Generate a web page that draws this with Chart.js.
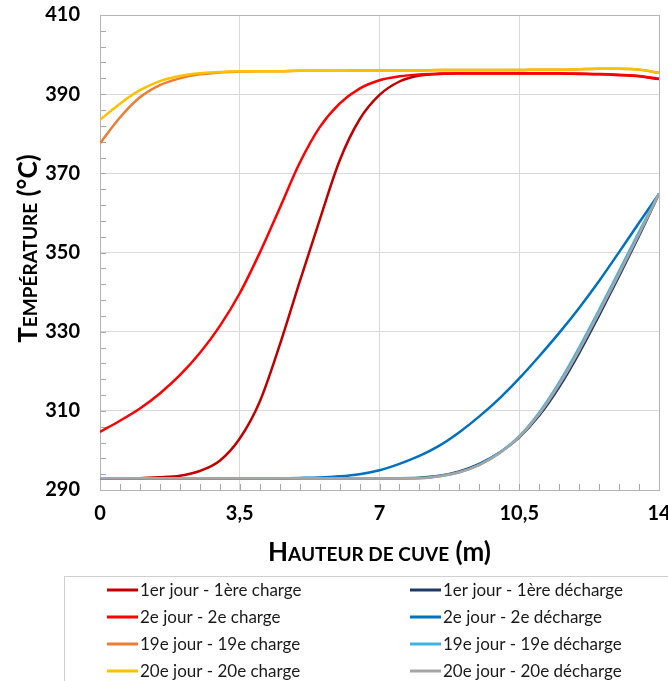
<!DOCTYPE html>
<html>
<head>
<meta charset="utf-8">
<script src="https://cdn.jsdelivr.net/npm/chart.js@4/dist/chart.umd.min.js"></script>
<style>
  html, body { margin: 0; padding: 0; background: #fff; }
  #wrap { width: 668px; height: 681px; }
</style>
</head>
<body>
<div id="wrap"><canvas id="cuveChart" width="668" height="681"></canvas></div>
<script>
// Hauteur de cuve (m)
const hauteurs = [0, 0.5, 1, 1.5, 2, 2.5, 3, 3.5, 4, 4.5, 5, 5.5, 6, 6.5, 7, 7.5, 8, 8.5, 9, 9.5, 10, 10.5, 11, 11.5, 12, 12.5, 13, 13.5, 14];

// Températures (°C)
const charge1 = [293.0, 293.0, 293.0, 293.2, 293.6, 294.8, 297.4, 303.0, 312.3, 326.6, 342.6, 358.2, 373.2, 383.6, 389.8, 393.2, 394.7, 395.1, 395.2, 395.2, 395.2, 395.2, 395.2, 395.2, 395.1, 395.0, 394.8, 394.5, 393.8];
const decharge1 = [293.0, 293.0, 293.0, 293.0, 293.0, 293.0, 293.0, 293.0, 293.0, 293.0, 293.0, 293.0, 293.0, 293.0, 293.0, 293.0, 293.1, 293.6, 294.7, 296.6, 299.4, 303.3, 308.8, 316.0, 324.6, 334.1, 344.0, 354.2, 364.8];
const charge2 = [304.7, 307.5, 310.6, 314.4, 319.0, 324.6, 331.4, 339.7, 349.9, 361.2, 372.6, 381.6, 387.6, 391.4, 393.5, 394.5, 395.0, 395.2, 395.3, 395.3, 395.3, 395.3, 395.3, 395.3, 395.2, 395.1, 394.9, 394.6, 393.9];
const decharge2 = [293.0, 293.0, 293.0, 293.0, 293.0, 293.0, 293.0, 293.0, 293.0, 293.0, 293.05, 293.15, 293.45, 294.0, 295.0, 296.6, 298.6, 301.2, 304.6, 308.6, 313.1, 318.2, 323.8, 329.7, 336.0, 342.8, 350.1, 357.5, 364.8];
const charge19 = [377.6, 384.1, 389.2, 392.3, 394.0, 395.0, 395.5, 395.7, 395.8, 395.8, 395.9, 395.9, 395.9, 396.0, 396.0, 396.0, 396.0, 396.1, 396.1, 396.1, 396.1, 396.1, 396.2, 396.2, 396.3, 396.4, 396.4, 396.2, 395.4];
const decharge19 = [293.0, 293.0, 293.0, 293.0, 293.0, 293.0, 293.0, 293.0, 293.0, 293.0, 293.0, 293.0, 293.0, 293.0, 293.0, 293.0, 293.0, 293.5, 294.5, 296.4, 299.4, 303.6, 309.6, 317.2, 326.0, 335.5, 345.3, 355.2, 364.9];
const charge20 = [383.5, 387.6, 391.0, 393.3, 394.6, 395.3, 395.6, 395.8, 395.8, 395.8, 395.9, 395.9, 395.9, 396.0, 396.0, 396.0, 396.0, 396.1, 396.1, 396.1, 396.1, 396.1, 396.2, 396.2, 396.3, 396.4, 396.4, 396.2, 395.4];
const decharge20 = [293.0, 293.0, 293.0, 293.0, 293.0, 293.0, 293.0, 293.0, 293.0, 293.0, 293.0, 293.0, 293.0, 293.0, 293.0, 293.0, 293.0, 293.5, 294.5, 296.3, 299.2, 303.4, 309.2, 316.6, 325.3, 334.8, 344.6, 354.6, 364.8];

const libelles = [
    '1er jour - 1ère charge', '1er jour - 1ère décharge',
    '2e jour - 2e charge', '2e jour - 2e décharge',
    '19e jour - 19e charge', '19e jour - 19e décharge',
    '20e jour - 20e charge', '20e jour - 20e décharge'
];
const series = [charge1, decharge1, charge2, decharge2, charge19, decharge19, charge20, decharge20];
const couleurs = ['#C00000', '#1F3864', '#FF0000', '#0070C0', '#ED7D31', '#3FB2E6', '#FFC000', '#A5A5A5'];

// Titres des axes en petites capitales : [texte, en petite capitale ?]
const titreX = [['H', false], ['AUTEUR DE CUVE', true], [' (m)', false]];
const titreY = [['T', false], ['EMPÉRATURE', true], [' (°C)', false]];

function dessinerPetitesCapitales(ctx, morceaux, cx, big, small) {
    const police = p => `bold ${p ? small : big}px Lato`;
    let total = 0;
    morceaux.forEach(([t, p]) => { ctx.font = police(p); total += ctx.measureText(t).width; });
    let x = cx - total / 2;
    morceaux.forEach(([t, p]) => {
        ctx.font = police(p);
        ctx.fillText(t, x, 0);
        x += ctx.measureText(t).width;
    });
}

// Cadre + petites graduations (à l'intérieur de la zone de tracé)
const cadrePlugin = {
    id: 'cadre',
    beforeDatasetsDraw(chart) {
        const { ctx, chartArea: a, scales } = chart;
        ctx.save();
        ctx.strokeStyle = '#a6a6a6';
        ctx.lineWidth = 1;
        ctx.beginPath();
        for (let v = 0; v <= 14; v += 0.5) {
            const x = Math.round(scales.x.getPixelForValue(v)) + 0.5;
            ctx.moveTo(x, a.bottom);
            ctx.lineTo(x, a.bottom - 6);
        }
        for (let v = 290; v <= 410; v += 4) {
            const y = Math.round(scales.y.getPixelForValue(v)) + 0.5;
            ctx.moveTo(a.left, y);
            ctx.lineTo(a.left + 6, y);
        }
        ctx.stroke();
        ctx.strokeStyle = '#b4b4b4';
        ctx.strokeRect(Math.round(a.left) + 0.5, Math.round(a.top) + 0.5,
            Math.round(a.right - a.left), Math.round(a.bottom - a.top));
        ctx.restore();
    }
};

// Titres + légende sur deux colonnes, dans un cadre
const legendePlugin = {
    id: 'legende',
    afterDraw(chart) {
        const { ctx, chartArea: a } = chart;
        ctx.save();
        ctx.fillStyle = '#000';
        ctx.textBaseline = 'alphabetic';
        ctx.save();
        ctx.translate(0, 561);
        dessinerPetitesCapitales(ctx, titreX, (a.left + a.right) / 2, 26, 19);
        ctx.restore();
        ctx.save();
        ctx.translate(37, (a.top + a.bottom) / 2 - 4);
        ctx.rotate(-Math.PI / 2);
        dessinerPetitesCapitales(ctx, titreY, 0, 26, 19);
        ctx.restore();

        ctx.strokeStyle = '#d0d0d0';
        ctx.lineWidth = 1;
        ctx.strokeRect(64.5, 576.5, 700, 200);
        ctx.font = '17px Lato';
        ctx.textBaseline = 'middle';
        ctx.fillStyle = '#1a1a1a';
        chart.data.datasets.forEach((ds, i) => {
            const col = i % 2, row = Math.floor(i / 2);
            const x = col === 0 ? 107 : 410;
            const y = 590 + row * 27;
            ctx.strokeStyle = ds.borderColor;
            ctx.lineWidth = 3;
            ctx.beginPath();
            ctx.moveTo(x, y);
            ctx.lineTo(x + 31, y);
            ctx.stroke();
            ctx.fillText(ds.label, x + 33, y + 1);
        });
        ctx.restore();
    }
};

const ctx = document.getElementById('cuveChart').getContext('2d');
new Chart(ctx, {
    type: 'line',
    data: {
        datasets: series.map((s, i) => ({
            label: libelles[i],
            data: hauteurs.map((h, j) => ({ x: h, y: s[j] })),
            borderColor: couleurs[i],
            backgroundColor: couleurs[i],
            borderWidth: 2.5,
            pointRadius: 0,
            cubicInterpolationMode: 'monotone',
            fill: false,
            order: series.length - i
        }))
    },
    options: {
        responsive: false,
        animation: false,
        layout: { padding: { left: 0, right: 9, top: 15, bottom: 111 } },
        plugins: {
            legend: { display: false },
            tooltip: { enabled: false }
        },
        scales: {
            x: {
                type: 'linear',
                min: 0,
                max: 14,
                ticks: {
                    stepSize: 3.5,
                    color: '#000',
                    padding: 12,
                    font: { family: 'Lato', size: 20, weight: 'bold' },
                    callback: v => String(v).replace('.', ',')
                },
                grid: { color: '#d9d9d9', drawTicks: false },
                border: { color: '#a6a6a6' },
                title: { display: false },
                afterFit: s => { s.height = 80; s.paddingLeft = 0; s.paddingRight = 0; }
            },
            y: {
                min: 290,
                max: 410,
                ticks: {
                    stepSize: 20,
                    color: '#000',
                    padding: 20,
                    font: { family: 'Lato', size: 20, weight: 'bold' }
                },
                grid: { color: '#d9d9d9', drawTicks: false },
                border: { color: '#a6a6a6' },
                title: { display: false },
                afterFit: s => { s.width = 100; s.paddingTop = 0; s.paddingBottom = 0; }
            }
        }
    },
    plugins: [cadrePlugin, legendePlugin]
});
</script>
</body>
</html>
